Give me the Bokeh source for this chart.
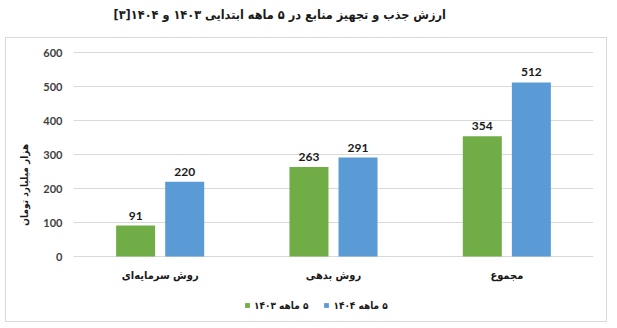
from bokeh.plotting import figure
from bokeh.models import (FactorRange, Range1d, Legend, LegendItem, Label,
                          ColumnDataSource, FixedTicker)
from bokeh.transform import dodge
from bokeh.core.properties import value
from bokeh.embed import file_html
from bokeh.resources import INLINE

RLM = "\u200f"
title_text = RLM + "ارزش جذب و تجهیز منابع در ۵ ماهه ابتدایی ۱۴۰۳ و ۱۴۰۴[۳]"
y_label = "هزار میلیارد تومان"
categories = ["روش سرمایه‌ای", "روش بدهی", "مجموع"]
series_names = [RLM + "۵ ماهه ۱۴۰۳", RLM + "۵ ماهه ۱۴۰۴"]
v1403 = [91, 263, 354]
v1404 = [220, 291, 512]
y_ticks = [0, 100, 200, 300, 400, 500, 600]

GREEN = "#70AD47"
BLUE = "#5B9BD5"
FA_FONT = "'DejaVu Sans Condensed', 'DejaVu Sans'"
NUM_FONT = "Lato"

W, H = 617, 328
FL, FR = 73, 593          # plot-area left/right (px)
Y600_PX, Y0_PX = 52, 256  # pixel rows of the 600 and 0 gridlines
PX_PER_UNIT = (Y0_PX - Y600_PX) / 600.0
y_lo = -(H - Y0_PX) / PX_PER_UNIT
y_hi = 600 + Y600_PX / PX_PER_UNIT
cat_label_y = -(275 - Y0_PX) / PX_PER_UNIT

src = ColumnDataSource(dict(cat=categories, a=v1403, b=v1404,
                            la=[str(v) for v in v1403],
                            lb=[str(v) for v in v1404],
                            ly=[cat_label_y] * len(categories)))

g = "linear-gradient(#d9d9d9,#d9d9d9)"
box_bg = {
    "background-color": "white",
    "background-image": ", ".join([g] * 4),
    "background-repeat": "no-repeat",
    "background-position": "5px 37px, 5px 321px, 5px 37px, 606px 37px",
    "background-size": "602px 1px, 602px 1px, 1px 285px, 1px 285px",
}

p = figure(width=W, height=H, x_range=FactorRange(*categories, range_padding=0),
           y_range=Range1d(y_lo, y_hi), output_backend="svg", toolbar_location=None,
           title=None, min_border_left=FL, min_border_right=W - FR,
           min_border_top=0, min_border_bottom=0, styles=box_bg)
p.outline_line_color = None
p.background_fill_alpha = 0
p.border_fill_alpha = 0

off = 0.1415
bw = 0.225
r1 = p.vbar(x=dodge("cat", -off, range=p.x_range), top="a", width=bw, source=src,
            fill_color=GREEN, line_color=None)
r2 = p.vbar(x=dodge("cat", off, range=p.x_range), top="b", width=bw, source=src,
            fill_color=BLUE, line_color=None)

for col, lab, o in (("a", "la", -off), ("b", "lb", off)):
    p.text(x=dodge("cat", o, range=p.x_range), y=col, text=lab, source=src,
           text_align="center", text_baseline="bottom", y_offset=-6,
           text_font=value(NUM_FONT), text_font_style="bold",
           text_font_size="12px", text_color="#1a1a1a")

# category labels under the bars
p.text(x="cat", y="ly", text="cat", source=src, text_align="center",
       text_baseline="middle", text_font=value("DejaVu Sans Condensed"),
       text_font_style="bold", text_font_size="11px", text_color="#1a1a1a")

# axes
p.xaxis.visible = False
p.yaxis.ticker = FixedTicker(ticks=y_ticks)
p.yaxis.axis_line_color = None
p.yaxis.major_tick_line_color = None
p.yaxis.major_tick_out = 0
p.yaxis.major_tick_in = 0
p.yaxis.minor_tick_line_color = None
p.yaxis.major_label_standoff = 11
p.yaxis.major_label_text_font = NUM_FONT
p.yaxis.major_label_text_font_style = "bold"
p.yaxis.major_label_text_font_size = "11px"
p.yaxis.major_label_text_color = "#404040"
p.yaxis.axis_label = y_label + "\u2003" * 4 + "\u2002"
p.yaxis.axis_label_standoff = 10
p.yaxis.axis_label_text_font = FA_FONT
p.yaxis.axis_label_text_font_style = "bold"
p.yaxis.axis_label_text_font_size = "10px"
p.yaxis.axis_label_text_color = "#1a1a1a"

p.xgrid.grid_line_color = None
p.ygrid.ticker = FixedTicker(ticks=y_ticks)
p.ygrid.grid_line_color = "#d9d9d9"
p.ygrid.grid_line_width = 1

# title (inside the frame, screen units from frame bottom-left)
p.add_layout(Label(x=113 - FL, y=H - 14, x_units="screen", y_units="screen",
                   text=title_text, text_align="left", text_baseline="middle",
                   text_font=FA_FONT, text_font_style="bold",
                   text_font_size="12.6px", text_color="#1a1a1a"))

legend = Legend(items=[LegendItem(label=series_names[0], renderers=[r1]),
                       LegendItem(label=series_names[1], renderers=[r2])],
                orientation="horizontal", location=(244 - FL, H - 311),
                glyph_width=6, glyph_height=6, label_standoff=4, spacing=15,
                padding=0, margin=0, border_line_color=None,
                background_fill_alpha=0, label_text_font=FA_FONT,
                label_text_font_style="bold", label_text_font_size="10px",
                label_text_color="#1a1a1a", label_height=12)
p.add_layout(legend, "center")

open("out.html", "w").write(file_html(p, INLINE))
